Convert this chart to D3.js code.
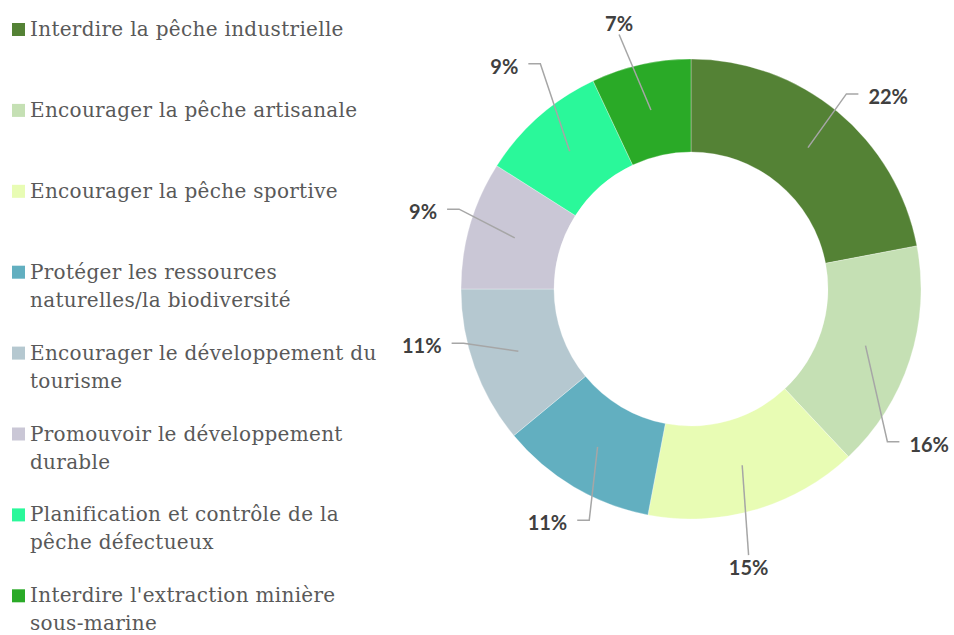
<!DOCTYPE html>
<html>
<head>
<meta charset="utf-8">
<script src="https://cdn.jsdelivr.net/npm/d3@7"></script>
<style>
  body { margin: 0; background: #fff; }
</style>
</head>
<body>
<script>
// categories (line breaks as in the legend), shares in percent, slice colours
const categories = [
  "Interdire la pêche industrielle",
  "Encourager la pêche artisanale",
  "Encourager la pêche sportive",
  "Protéger les ressources\nnaturelles/la biodiversité",
  "Encourager le développement du\ntourisme",
  "Promouvoir le développement\ndurable",
  "Planification et contrôle de la\npêche défectueux",
  "Interdire l'extraction minière\nsous-marine"
];
const values = [22, 16, 15, 11, 11, 9, 9, 7];
const colors = ["#548235", "#c5e0b4", "#e8fcb4", "#62afc0", "#b5c8d0", "#cac7d6", "#2af89a", "#2aaa27"];

// label placement tweaks (degrees added to mid-angle, radius for the label)
const labelShift = [6, 15, 4.5, 1, 8, 0, 1.5, -2.5];
const labelRadius = [276, 284, 284, 274, 275, 279, 291, 276];

const width = 954, height = 635;
const cx = 691, cy = 289, rOuter = 230, rInner = 137;

const svg = d3.select("body").append("svg")
  .attr("width", width)
  .attr("height", height);

const pie = d3.pie().sort(null).value(d => d);
const arcs = pie(values);
const arc = d3.arc().innerRadius(rInner).outerRadius(rOuter);

const g = svg.append("g").attr("transform", `translate(${cx},${cy})`);

g.selectAll("path.slice")
  .data(arcs)
  .enter()
  .append("path")
  .attr("class", "slice")
  .attr("d", arc)
  .attr("fill", (d, i) => colors[i])
  .attr("stroke", "#fff")
  .attr("stroke-width", 0.3);

// data labels with leader lines
arcs.forEach((d, i) => {
  const mid = (d.startAngle + d.endAngle) / 2;
  const a = mid + labelShift[i] * Math.PI / 180;
  const lx = Math.sin(a) * labelRadius[i];
  const ly = -Math.cos(a) * labelRadius[i];
  const [sx, sy] = arc.centroid(d);

  const t = g.append("text")
    .attr("x", lx)
    .attr("y", ly)
    .attr("text-anchor", "middle")
    .attr("dominant-baseline", "central")
    .attr("font-family", "Lato, 'Open Sans', sans-serif")
    .attr("font-weight", 700)
    .attr("font-size", 20)
    .attr("fill", "#404040")
    .text(d.data + "%");
  const hw = t.node().getComputedTextLength() / 2;

  let pts;
  const deg = ((a * 180 / Math.PI) % 360 + 360) % 360;
  if (deg < 20 || deg > 340) {
    // above the ring: line to the bottom of the label
    pts = [[sx, sy], [lx, ly + 12]];
  } else if (deg > 160 && deg < 200) {
    // below the ring: line to the top of the label
    pts = [[sx, sy], [lx, ly - 12]];
  } else {
    const side = lx > 0 ? -1 : 1;
    const ex = lx + side * (hw + 10);
    const yy = ly - 2;
    pts = [[sx, sy], [ex + side * 12, yy], [ex, yy]];
  }
  g.append("path")
    .attr("d", d3.line()(pts))
    .attr("fill", "none")
    .attr("stroke", "#a6a6a6")
    .attr("stroke-width", 1.5);
});

// legend
const legend = svg.append("g").attr("transform", "translate(12,36)");
const step = 80.9;
categories.forEach((c, i) => {
  const row = legend.append("g").attr("transform", `translate(0,${i * step})`);
  row.append("rect")
    .attr("x", 0)
    .attr("y", -13)
    .attr("width", 13)
    .attr("height", 13)
    .attr("fill", colors[i]);
  const txt = row.append("text")
    .attr("x", 18)
    .attr("y", 0)
    .attr("font-family", "'DejaVu Serif', Georgia, serif")
    .attr("font-size", 20)
    .attr("letter-spacing", 0.3)
    .attr("fill", "#595959");
  c.split("\n").forEach((line, j) => {
    txt.append("tspan")
      .attr("x", 18)
      .attr("dy", j === 0 ? 0 : 28)
      .text(line);
  });
});
</script>
</body>
</html>
